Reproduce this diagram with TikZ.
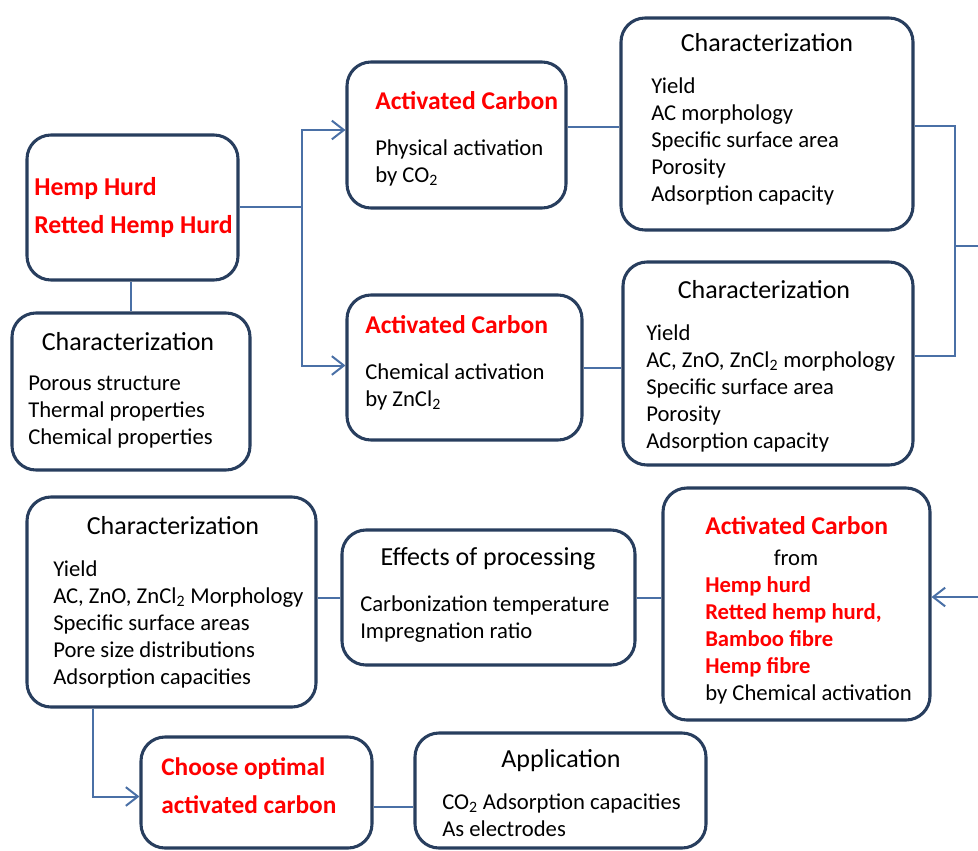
\documentclass[tikz,border=0pt]{standalone}
\usepackage{fontspec}
\setmainfont{Carlito}
\usepackage{tikz}
\usetikzlibrary{arrows.meta}
\usetikzlibrary{positioning}
\usetikzlibrary{fit}
\usetikzlibrary{calc}
\definecolor{boxblue}{RGB}{40,62,94}
\definecolor{linkblue}{RGB}{74,112,166}
\definecolor{acred}{RGB}{255,0,0}
\tikzstyle{card}=[draw=boxblue,line width=2.3pt,rounded corners=18pt,fill=white,inner sep=0pt]
\tikzstyle{head}=[font=\fontsize{19.5}{22}\selectfont,anchor=base,inner sep=0pt]
\tikzstyle{redhead}=[font=\fontsize{19.2}{22}\selectfont\bfseries,text=acred,anchor=base west,inner sep=0pt]
\tikzstyle{body}=[font=\fontsize{17}{20.25}\selectfont,align=left,anchor=north west,inner sep=0pt]
\tikzstyle{link}=[draw=linkblue,line width=1.5pt]
\tikzstyle{arr}=[link,-{Straight Barb[length=9pt,width=14pt]}]
\newcommand{\hl}[1]{\textcolor{acred}{\bfseries #1}}

\begin{document}
\begin{tikzpicture}[x=0.75pt,y=-0.75pt]
\useasboundingbox (0,0) rectangle (978,850);

\node [card,fit={(27,135) (238,280)}] (hemp) {};
\node [body,font=\fontsize{19.3}{28.5}\selectfont\bfseries,text=acred] (hempt) at (34,177) {Hemp Hurd\\Retted Hemp Hurd};

\node [card,fit={(12,313) (250,470)}] (charL) {};
\node [head] (charLh) at (128,350) {Characterization};
\node [body] (charLt) at (28,376) {Porous structure\\Thermal properties\\Chemical properties};

\node [card,fit={(347,62) (566,208)}] (acphys) {};
\node [redhead] (acphysh) at (375,109) {Activated Carbon};
\node [body] (acphyst) at (375,139) {Physical activation\\by CO\textsubscript{2}};

\node [card,fit={(621,18) (913,230)}] (charT) {};
\node [head] (charTh) at (767,51) {Characterization};
\node [body] (charTt) at (651,77) {Yield\\AC morphology\\Specific surface area\\Porosity\\Adsorption capacity};

\node [card,fit={(347,295) (582,440)}] (acchem) {};
\node [redhead] (acchemh) at (365,333) {Activated Carbon};
\node [body] (acchemt) at (365,363) {Chemical activation\\by ZnCl\textsubscript{2}};

\node [card,fit={(623,262) (913,465)}] (charM) {};
\node [head] (charMh) at (764,298) {Characterization};
\node [body] (charMt) at (646,324) {Yield\\AC, ZnO, ZnCl\textsubscript{2} morphology\\Specific surface area\\Porosity\\Adsorption capacity};

\node [card,fit={(27,497) (316,707)}] (charB) {};
\node [head] (charBh) at (173,534) {Characterization};
\node [body] (charBt) at (53,560) {Yield\\AC, ZnO, ZnCl\textsubscript{2} Morphology\\Specific surface areas\\Pore size distributions\\Adsorption capacities};

\node [card,fit={(342,530) (635,665)}] (effects) {};
\node [head] (effectsh) at (488,565) {Effects of processing};
\node [body] (effectst) at (360,595) {Carbonization temperature\\Impregnation ratio};

\node [card,fit={(663,488) (930,720)}] (acfrom) {};
\node [redhead] (acfromh) at (705,534) {Activated Carbon};
\node [head,font=\fontsize{17}{20}\selectfont] (acfromf) at (796,565) {from};
\node [body] (acfromt) at (705,576) {\hl{Hemp hurd}\\\hl{Retted hemp hurd,}\\\hl{Bamboo fibre}\\\hl{Hemp fibre}\\by Chemical activation};

\node [card,fit={(141,737) (372,848)}] (choose) {};
\node [body,font=\fontsize{19}{28.5}\selectfont\bfseries,text=acred] (chooset) at (161,757) {Choose optimal\\activated carbon};

\node [card,fit={(415,733) (706,848)}] (appl) {};
\node [head] (applh) at (561,767) {Application};
\node [body] (applt) at (442,793) {CO\textsubscript{2} Adsorption capacities\\As electrodes};

\coordinate (split) at (302,207);
\coordinate (rjoin) at (955,246);
\coordinate (rout) at (978,246);
\coordinate (rin) at (978,597);

\draw [link] (hemp.east |- split) -- (split);
\draw [arr] (split) |- ($(acphys.west)+(0,-5)$);
\draw [arr] (split) |- ($(acchem.west)+(0,-2)$);
\draw [link] (hemp.south -| charL.north) -- (charL.north);
\draw [link] ($(acphys.east)+(0,-8)$) coordinate (pj) -- (pj -| charT.west);
\draw [link] (acchem.east) -- (acchem.east -| charM.west);
\draw [link] ($(charT.east)+(0,2)$) -| (rjoin) |- ($(charM.east)+(0,-8)$);
\draw [link] (rjoin) -- (rout);
\draw [arr] (rin) -- (rin -| acfrom.east);
\draw [link] (effects.east) -- (effects.east -| acfrom.west);
\draw [link] (effects.west) -- (effects.west -| charB.east);
\draw [arr] ($(charB.south west)+(68,0)$) |- ($(choose.west)+(0,4)$);
\draw [link] ($(choose.east)+(0,14)$) coordinate (cj) -- (cj -| appl.west);
\end{tikzpicture}
\end{document}
